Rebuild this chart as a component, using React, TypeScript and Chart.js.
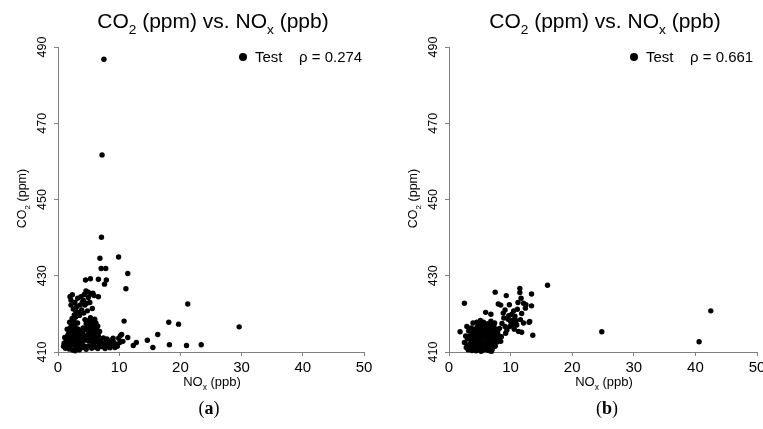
import React, { useEffect, useRef } from 'react';
import { Chart, registerables } from 'chart.js';

Chart.register(...registerables);

const FONT = "'Liberation Sans', Arial, Helvetica, sans-serif";

const xTicks = [0, 10, 20, 30, 40, 50];
const yTicks = [410, 430, 450, 470, 490];
const seriesName = 'Test';
const rhoA = '0.274';
const rhoB = '0.661';

// Panel (a): NOx (ppb), CO2 (ppm)
const outliersA: [number, number][] = [
  [7.5, 486.8], [7.2, 461.7], [7.1, 440.1], [6.85, 434.6], [9.9, 434.9], [7.05, 431.9],
  [7.8, 431.9], [11.4, 430.6], [7.9, 428.9], [7.6, 427.8], [4.5, 428.9], [5.3, 429.2],
  [6.6, 429.1], [11.1, 426.6], [6.6, 424.5], [21.2, 422.6], [10.8, 418.1], [18.1, 417.8],
  [19.7, 417.3], [29.6, 416.6], [16.3, 414.6], [14.6, 413.1], [12.8, 412.5], [12.3, 411.7],
  [15.5, 411.2], [18.2, 411.9], [21.0, 411.7], [23.4, 411.9], [11.4, 413.8],
];
const armA: [number, number][] = [
  [1.96, 424.5], [2.34, 425.0], [2.12, 423.6], [2.77, 423.0], [3.21, 424.1], [3.75, 424.5],
  [4.29, 425.1], [4.57, 426.0], [4.95, 425.7], [5.38, 425.2], [4.13, 423.6], [3.04, 421.9],
  [3.59, 422.3], [4.4, 422.3], [2.5, 421.3], [3.32, 420.4], [3.86, 421.0], [4.68, 422.8],
  [4.95, 424.3], [2.66, 419.7], [2.12, 422.3], [3.97, 423.0], [5.7, 425.4], [5.9, 424.8],
  [5.2, 423.0], [3.5, 419.6], [4.2, 420.2], [2.9, 420.8], [5.6, 421.4], [4.8, 420.8],
];
const blobA: [number, number][] = [
  [0.9, 411.5], [1.0, 412.3], [1.2, 411.0], [1.3, 412.8], [1.4, 413.6], [1.5, 411.8],
  [1.6, 414.4], [1.7, 412.5], [1.8, 410.8], [1.8, 415.2], [1.9, 413.2], [2.0, 416.3],
  [2.0, 411.6], [2.1, 414.0], [2.2, 412.2], [2.2, 417.0], [2.3, 415.5], [2.4, 410.5],
  [2.4, 413.5], [2.5, 416.6], [2.5, 411.9], [2.6, 414.7], [2.7, 412.9], [2.7, 417.2],
  [2.8, 410.3], [2.8, 415.8], [2.9, 411.4], [2.9, 413.9], [3.0, 416.2], [3.0, 412.4],
  [3.1, 410.9], [3.1, 414.9], [3.2, 413.2], [3.3, 411.7], [3.3, 416.0], [3.4, 412.8],
  [3.5, 414.3], [3.5, 410.6], [3.6, 415.5], [3.7, 411.9], [3.8, 413.6], [3.9, 412.4],
  [4.0, 414.8], [4.0, 411.2], [4.1, 416.3], [4.2, 413.0], [4.3, 411.6], [4.4, 414.2],
  [1.1, 413.8], [1.5, 416.0], [2.6, 418.2], [3.2, 417.6], [1.9, 417.8], [2.3, 418.8],
  [2.9, 419.2],
];
const lumpA: [number, number][] = [
  [4.5, 415.8], [4.6, 417.4], [4.7, 413.2], [4.8, 416.6], [4.9, 414.6], [5.0, 418.2],
  [5.0, 412.9], [5.1, 415.4], [5.2, 417.0], [5.3, 413.8], [5.4, 416.1], [5.5, 414.6],
  [5.6, 418.0], [5.6, 412.6], [5.7, 415.6], [5.8, 417.1], [5.9, 413.7], [6.0, 416.4],
  [6.1, 414.8], [6.2, 417.6], [6.3, 413.1], [6.4, 415.7], [6.5, 416.8], [6.6, 414.2],
  [6.8, 415.4], [4.4, 418.5], [5.3, 419.0], [6.0, 418.6],
];
const tailA: [number, number][] = [
  [6.0, 411.3], [6.3, 412.6], [6.5, 410.9], [6.8, 411.9], [7.0, 413.0], [7.2, 411.4],
  [7.5, 412.2], [7.7, 410.9], [7.9, 412.8], [8.1, 411.6], [8.3, 412.4], [8.5, 411.1],
  [8.7, 413.1], [8.9, 411.8], [9.1, 412.6], [9.3, 411.2], [9.5, 412.0], [9.7, 411.5],
  [9.9, 413.6], [10.1, 412.5], [10.2, 414.3], [10.4, 414.6], [10.6, 412.8], [8.0, 413.4],
  [9.0, 413.6], [6.2, 413.5], [7.4, 413.7], [5.5, 411.0], [5.0, 411.6], [4.6, 410.7],
  [5.8, 412.0],
];

// Panel (b)
const outliersB: [number, number][] = [
  [24.8, 415.3], [40.6, 412.7], [42.5, 420.8], [16.0, 427.5], [2.5, 422.8], [1.8, 415.3],
];
const upperB: [number, number][] = [
  [11.5, 426.7], [11.5, 425.6], [7.5, 425.7], [9.3, 424.8], [13.4, 425.2], [11.7, 424.1],
  [11.2, 423.0], [12.1, 422.8], [12.5, 422.4], [13.4, 422.1], [8.0, 422.6], [8.4, 422.3],
  [9.8, 422.4], [9.1, 421.0], [8.8, 420.2], [5.95, 420.4], [6.8, 419.9], [10.2, 419.9],
  [10.7, 419.4], [10.4, 418.4], [9.6, 418.6], [11.8, 420.1], [13.0, 417.8], [12.1, 417.6],
  [11.3, 415.4], [11.8, 415.2], [13.6, 414.4], [9.9, 416.7], [9.4, 415.8], [9.1, 416.7],
  [11.0, 417.1], [2.9, 416.7], [3.9, 417.6], [13.1, 418.0], [10.0, 418.0], [10.3, 417.2],
  [9.7, 419.5], [10.9, 418.2], [10.5, 420.8], [8.6, 417.5], [8.2, 416.2], [7.9, 415.3],
  [7.6, 414.5], [8.5, 414.0], [9.2, 414.9], [10.6, 416.0], [11.6, 418.5], [12.4, 421.5],
  [11.1, 421.2], [8.9, 418.9],
];
const blobB: [number, number][] = [
  [2.5, 412.5], [2.8, 411.2], [3.0, 413.4], [3.1, 410.6], [3.3, 412.0], [3.4, 414.2],
  [3.5, 411.3], [3.6, 413.0], [3.7, 410.4], [3.8, 415.0], [3.9, 412.3], [4.0, 413.8],
  [4.0, 410.9], [4.1, 416.0], [4.2, 411.7], [4.2, 414.6], [4.3, 412.8], [4.4, 410.3],
  [4.4, 415.6], [4.5, 413.5], [4.6, 411.2], [4.6, 416.6], [4.7, 414.3], [4.8, 412.1],
  [4.8, 417.2], [4.9, 410.6], [4.9, 415.2], [5.0, 413.0], [5.0, 416.1], [5.1, 411.6],
  [5.2, 414.1], [5.2, 417.5], [5.3, 412.5], [5.3, 415.7], [5.4, 410.4], [5.4, 416.7],
  [5.5, 413.6], [5.5, 411.1], [5.6, 414.8], [5.6, 417.8], [5.7, 412.2], [5.7, 416.0],
  [5.8, 410.8], [5.8, 413.9], [5.9, 415.3], [5.9, 417.0], [6.0, 411.7], [6.0, 414.5],
  [6.1, 416.4], [6.1, 412.8], [6.2, 410.5], [6.2, 415.8], [6.3, 413.4], [6.3, 417.4],
  [6.4, 411.3], [6.4, 414.9], [6.5, 416.6], [6.5, 412.4], [6.6, 413.9], [6.6, 410.3],
  [6.7, 415.5], [6.7, 417.0], [6.8, 411.9], [6.8, 414.3], [6.9, 416.2], [7.0, 413.1],
  [7.0, 410.7], [7.1, 415.1], [7.2, 412.2], [7.3, 416.8], [7.4, 414.0], [7.5, 411.5],
  [7.6, 413.2], [7.7, 415.9], [7.8, 412.6], [8.0, 414.4], [8.2, 413.5], [8.4, 412.8],
  [3.2, 415.5], [2.7, 414.2], [3.6, 416.3], [4.5, 417.8], [3.0, 411.8], [5.1, 418.3],
  [6.8, 418.1], [7.4, 417.6], [4.0, 412.4], [5.2, 410.2], [6.9, 410.2],
];

const pointsA = [...outliersA, ...armA, ...blobA, ...lumpA, ...tailA];
const pointsB = [...outliersB, ...upperB, ...blobB];

type Part = { t: string; sub?: boolean };

function drawRich(
  ctx: CanvasRenderingContext2D,
  parts: Part[],
  x: number,
  y: number,
  size: number,
  align: 'center' | 'left',
  rot = 0,
) {
  ctx.save();
  ctx.translate(x, y);
  ctx.rotate(rot);
  ctx.textAlign = 'left';
  ctx.textBaseline = 'alphabetic';
  ctx.fillStyle = '#000';
  const widths = parts.map((p) => {
    ctx.font = `${p.sub ? size * 0.65 : size}px ${FONT}`;
    return ctx.measureText(p.t).width;
  });
  const total = widths.reduce((a, b) => a + b, 0);
  let cx = align === 'center' ? -total / 2 : 0;
  parts.forEach((p, i) => {
    ctx.font = `${p.sub ? size * 0.65 : size}px ${FONT}`;
    ctx.fillText(p.t, cx, p.sub ? size * 0.28 : 0);
    cx += widths[i];
  });
  ctx.restore();
}

const titleParts: Part[] = [
  { t: 'CO' }, { t: '2', sub: true }, { t: ' (ppm) vs. NO' }, { t: 'x', sub: true }, { t: ' (ppb)' },
];
const xTitleParts: Part[] = [{ t: 'NO' }, { t: 'x', sub: true }, { t: ' (ppb)' }];
const yTitleParts: Part[] = [{ t: 'CO' }, { t: '2', sub: true }, { t: ' (ppm)' }];

const panelText = {
  id: 'panelText',
  afterDraw(chart: any, _args: any, opts: any) {
    const ctx: CanvasRenderingContext2D = chart.ctx;
    const { left, right, top, bottom } = chart.chartArea;
    const cx = (left + right) / 2;
    drawRich(ctx, titleParts, cx + 2, 28, 21, 'center');
    drawRich(ctx, xTitleParts, cx + 1, 386, 13, 'center');
    drawRich(ctx, yTitleParts, 26, (top + bottom) / 2 - 1, 12.5, 'center', -Math.PI / 2);
    // legend
    ctx.save();
    ctx.fillStyle = '#000';
    ctx.beginPath();
    ctx.arc(left + 185, 57, 4, 0, Math.PI * 2);
    ctx.fill();
    ctx.restore();
    drawRich(ctx, [{ t: seriesName }], left + 197, 62, 15, 'left');
    drawRich(ctx, [{ t: `\u03C1 = ${opts.rho}` }], left + 241, 62, 15, 'left');
  },
};

function Panel({ points, rho, left, width }: { points: [number, number][]; rho: string; left: number; width: number }) {
  const ref = useRef<HTMLCanvasElement>(null);
  useEffect(() => {
    const rightPad = width - (left === 0 ? 364 : 366);
    const chart = new Chart(ref.current!, {
      type: 'scatter',
      data: {
        datasets: [
          {
            label: seriesName,
            data: points.map(([x, y]) => ({ x, y })),
            pointRadius: 2.7,
            pointHoverRadius: 2.7,
            backgroundColor: '#000',
            borderColor: '#000',
            borderWidth: 0,
            clip: false as any,
          },
        ],
      },
      options: {
        animation: false,
        responsive: false,
        events: [],
        layout: { padding: { left: 0, top: 47, right: rightPad, bottom: 37 } },
        plugins: {
          legend: { display: false },
          title: { display: false },
          tooltip: { enabled: false },
          panelText: { rho },
        } as any,
        scales: {
          x: {
            type: 'linear',
            min: 0,
            max: 50,
            afterBuildTicks: (s: any) => {
              s.ticks = xTicks.map((v) => ({ value: v }));
            },
            afterFit: (s: any) => {
              s.height = 40;
            },
            ticks: {
              font: { family: FONT, size: 15 },
              color: '#000',
              padding: 3,
              maxRotation: 0,
              autoSkip: false,
            },
            grid: { drawOnChartArea: false, drawTicks: true, tickLength: 4, color: '#808080' },
            border: { color: '#808080', width: 1 },
          },
          y: {
            type: 'linear',
            min: 410,
            max: 490,
            afterBuildTicks: (s: any) => {
              s.ticks = yTicks.map((v) => ({ value: v }));
            },
            afterFit: (s: any) => {
              s.width = 58;
            },
            ticks: {
              font: { family: FONT, size: 12.5 },
              color: '#000',
              padding: 1,
              minRotation: 90,
              maxRotation: 90,
              crossAlign: 'center',
              autoSkip: false,
            },
            grid: { drawOnChartArea: false, drawTicks: true, tickLength: 4, color: '#808080' },
            border: { color: '#808080', width: 1 },
          },
        },
      } as any,
      plugins: [panelText],
    });
    return () => chart.destroy();
  }, []);
  return (
    <canvas
      ref={ref}
      width={width}
      height={429}
      style={{ position: 'absolute', left, top: 0, width, height: 429 }}
    />
  );
}

const captionStyle: React.CSSProperties = {
  position: 'absolute',
  top: 398,
  width: 60,
  textAlign: 'center',
  fontFamily: "'Liberation Serif', 'DejaVu Serif', serif",
  fontSize: 18,
  lineHeight: '20px',
  color: '#000',
};

export default function App() {
  return (
    <div
      style={{
        position: 'absolute',
        left: 0,
        top: 0,
        width: 763,
        height: 429,
        overflow: 'hidden',
        background: '#fff',
      }}
    >
      <Panel points={pointsA} rho={rhoA} left={0} width={391} />
      <Panel points={pointsB} rho={rhoB} left={391} width={380} />
      <div style={{ ...captionStyle, left: 209 - 30 }}>
        (<b>a</b>)
      </div>
      <div style={{ ...captionStyle, left: 607 - 30 }}>
        (<b>b</b>)
      </div>
    </div>
  );
}
